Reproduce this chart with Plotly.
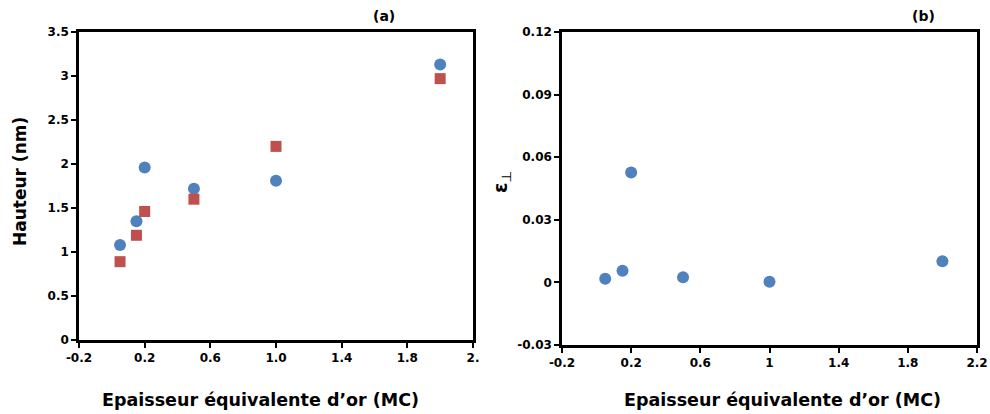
import plotly.graph_objects as go

# Panel (a): Hauteur vs épaisseur
x_a = [0.05, 0.15, 0.2, 0.5, 1.0, 2.0]
hauteur_circle = [1.08, 1.35, 1.96, 1.72, 1.81, 3.13]
hauteur_square = [0.89, 1.19, 1.46, 1.60, 2.20, 2.97]

# Panel (b): epsilon perpendiculaire
x_b = [0.05, 0.15, 0.2, 0.5, 1.0, 2.0]
eps_perp = [0.0017, 0.0056, 0.0527, 0.0025, 0.0003, 0.0101]

xa_ticks = [-0.2, 0.2, 0.6, 1.0, 1.4, 1.8, 2.2]
xa_ticktext = ["-0.2", "0.2", "0.6", "1.0", "1.4", "1.8", "2."]
ya_ticks = [0, 0.5, 1, 1.5, 2, 2.5, 3, 3.5]
ya_ticktext = ["0", "0.5", "1", "1.5", "2", "2.5", "3", "3.5"]
xb_ticks = [-0.2, 0.2, 0.6, 1.0, 1.4, 1.8, 2.2]
xb_ticktext = ["-0.2", "0.2", "0.6", "1", "1.4", "1.8", "2.2"]
yb_ticks = [-0.03, 0, 0.03, 0.06, 0.09, 0.12]
yb_ticktext = ["-0.03", "0", "0.03", "0.06", "0.09", "0.12"]

BLUE = "#4F81BD"
RED = "#C0504D"
FONT = "DejaVu Sans"

fig = go.Figure()
fig.add_trace(go.Scatter(x=x_a, y=hauteur_circle, mode="markers", xaxis="x", yaxis="y",
                         marker=dict(symbol="circle", size=12, color=BLUE), showlegend=False))
fig.add_trace(go.Scatter(x=x_a, y=hauteur_square, mode="markers", xaxis="x", yaxis="y",
                         marker=dict(symbol="square", size=11, color=RED), showlegend=False))
fig.add_trace(go.Scatter(x=x_b, y=eps_perp, mode="markers", xaxis="x2", yaxis="y2",
                         marker=dict(symbol="circle", size=12, color=BLUE), showlegend=False))

axis_common = dict(showline=True, linecolor="black", linewidth=2.5, mirror=True,
                   showgrid=False, zeroline=False, ticks="outside", ticklen=5,
                   tickwidth=2, tickcolor="black", automargin=False,
                   tickfont=dict(family=FONT, size=12, color="black", weight="bold"))

fig.update_layout(
    width=990, height=414,
    template="none",
    margin=dict(l=0, r=0, t=0, b=0, autoexpand=False),
    paper_bgcolor="white", plot_bgcolor="white",
    xaxis=dict(domain=[79/990, 473/990], range=[-0.2, 2.2], tickvals=xa_ticks,
               ticktext=xa_ticktext, anchor="y", **axis_common),
    yaxis=dict(domain=[1-340/414, 1-32/414], range=[0, 3.5], tickvals=ya_ticks,
               ticktext=ya_ticktext, anchor="x", **axis_common),
    xaxis2=dict(domain=[562/990, 977/990], range=[-0.2, 2.2], tickvals=xb_ticks,
                ticktext=xb_ticktext, anchor="y2", **axis_common),
    yaxis2=dict(domain=[1-345/414, 1-32/414], range=[-0.03, 0.12], tickvals=yb_ticks,
                ticktext=yb_ticktext, anchor="x2", **axis_common),
)

title_font = dict(family=FONT, size=17.5, color="black", weight="bold")
anns = [
    dict(text="Epaisseur équivalente d’or (MC)", x=260/990, y=1-400/414, font=title_font),
    dict(text="Epaisseur équivalente d’or (MC)", x=782/990, y=1-400/414, font=title_font),
    dict(text="Hauteur (nm)", x=20/990, y=1-182/414,
         font=dict(family=FONT, size=17, color="black", weight="bold"), textangle=-90),
    dict(text="ε<sub><span style='font-weight:normal'>⊥</span></sub>", x=502/990, y=1-182/414,
         font=dict(family=FONT, size=19, color="black", weight="bold"), textangle=-90),
    dict(text="(a)", x=384/990, y=1-16/414,
         font=dict(family=FONT, size=14, color="black", weight="bold")),
    dict(text="(b)", x=923/990, y=1-16/414,
         font=dict(family=FONT, size=14, color="black", weight="bold")),
]
for a in anns:
    fig.add_annotation(xref="paper", yref="paper", showarrow=False,
                       xanchor="center", yanchor="middle", **a)

fig.write_html("out.html", config={"displayModeBar": False},
               post_script="document.body.style.margin='0';document.body.style.overflow='hidden';")
